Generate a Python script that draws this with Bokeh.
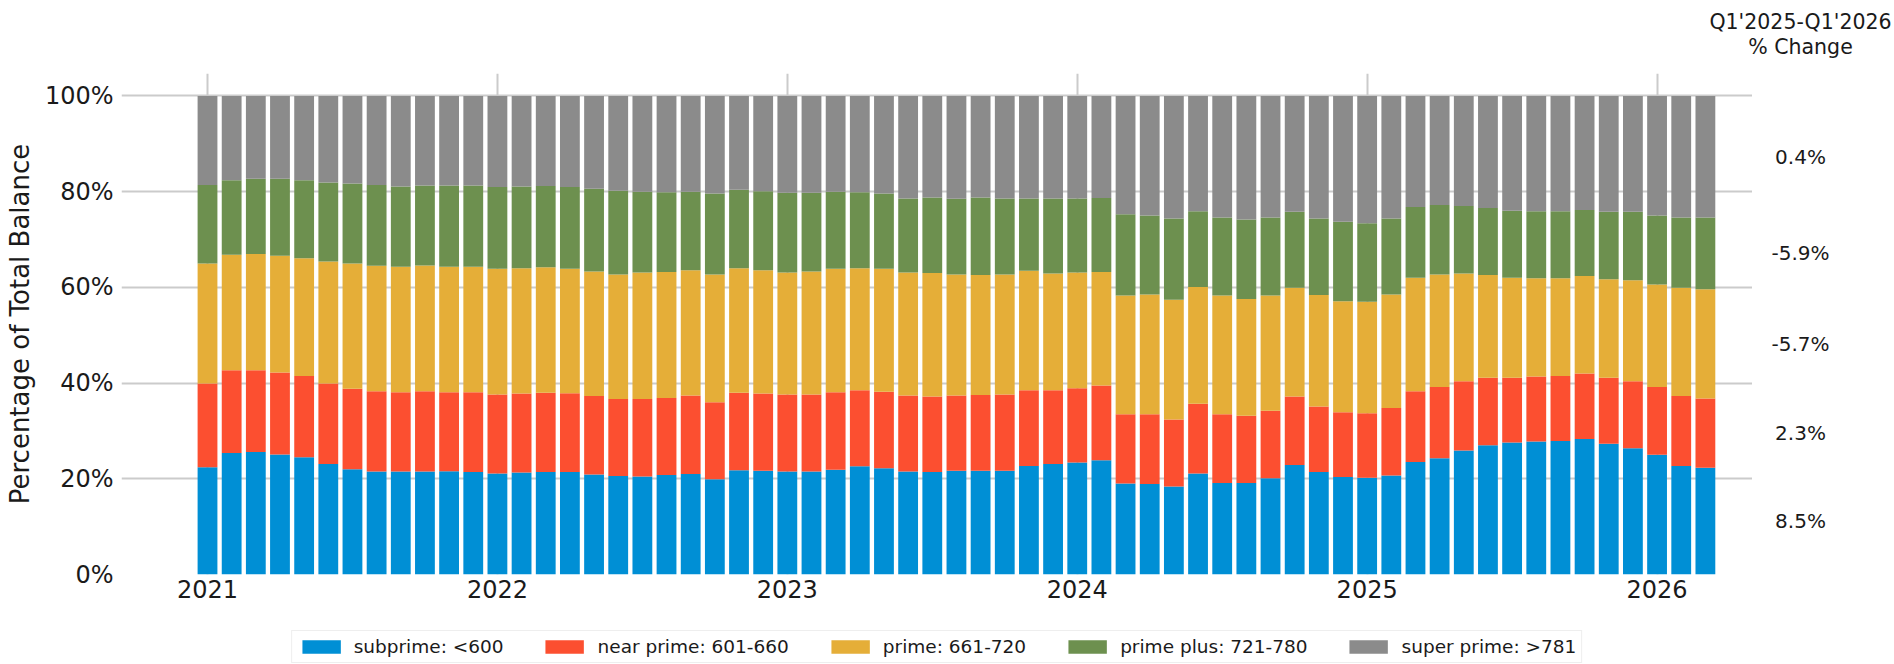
import pandas as pd
from bokeh.plotting import figure
from bokeh.layouts import column, row
from bokeh.models import (ColumnDataSource, FixedTicker, PrintfTickFormatter, Legend,
                          LegendItem, Range1d)
from bokeh.core.properties import value
from bokeh.embed import file_html
from bokeh.resources import INLINE

# ---------------- data ----------------
months = pd.date_range("2021-01-01", periods=63, freq="MS").strftime("%Y-%m").tolist()

subprime = [22.4, 25.4, 25.6, 25.1, 24.5, 23.1, 22.0, 21.5, 21.5, 21.5, 21.6, 21.4,
            21.1, 21.3, 21.4, 21.4, 20.9, 20.6, 20.5, 20.8, 21.0, 19.9, 21.8, 21.7,
            21.5, 21.5, 21.9, 22.6, 22.2, 21.5, 21.4, 21.7, 21.7, 21.7, 22.7, 23.1,
            23.4, 23.9, 19.0, 18.9, 18.4, 21.1, 19.1, 19.1, 20.1, 22.9, 21.4, 20.4,
            20.2, 20.7, 23.5, 24.3, 25.9, 27.0, 27.6, 27.8, 27.9, 28.3, 27.3, 26.4,
            25.0, 22.7, 22.3]
near_prime = [17.5, 17.3, 17.1, 17.1, 17.0, 16.8, 16.8, 16.8, 16.6, 16.8, 16.5, 16.7,
              16.5, 16.5, 16.6, 16.5, 16.4, 16.1, 16.2, 16.1, 16.4, 16.1, 16.2, 16.1,
              16.1, 16.1, 16.2, 15.9, 16.0, 15.9, 15.8, 15.7, 15.8, 15.9, 15.8, 15.4,
              15.5, 15.6, 14.5, 14.6, 14.0, 14.6, 14.4, 14.1, 14.1, 14.3, 13.7, 13.5,
              13.5, 14.1, 14.8, 14.9, 14.5, 14.1, 13.5, 13.6, 13.6, 13.7, 13.8, 14.0,
              14.2, 14.6, 14.5]
prime = [25.1, 24.1, 24.3, 24.4, 24.6, 25.5, 26.2, 26.2, 26.2, 26.3, 26.2, 26.2,
         26.3, 26.2, 26.2, 26.0, 26.0, 26.0, 26.4, 26.3, 26.2, 26.7, 26.0, 25.8,
         25.5, 25.7, 25.8, 25.5, 25.7, 25.7, 25.8, 25.3, 25.1, 25.1, 25.0, 24.4,
         24.2, 23.7, 24.8, 25.0, 25.0, 24.4, 24.8, 24.4, 24.1, 22.7, 23.3, 23.2,
         23.3, 23.7, 23.7, 23.5, 22.5, 21.5, 20.9, 20.5, 20.4, 20.4, 20.6, 21.1,
         21.4, 22.6, 22.8]
prime_plus = [16.4, 15.6, 15.7, 16.1, 16.3, 16.5, 16.7, 16.9, 16.8, 16.7, 17.0, 17.0,
              17.1, 17.1, 17.0, 17.1, 17.3, 17.5, 16.9, 16.7, 16.4, 16.9, 16.4, 16.5,
              16.7, 16.5, 16.1, 15.9, 15.7, 15.5, 15.8, 15.8, 16.2, 15.9, 15.1, 15.7,
              15.5, 15.5, 17.0, 16.5, 17.0, 15.8, 16.3, 16.6, 16.3, 15.9, 16.0, 16.6,
              16.4, 15.9, 14.8, 14.5, 14.1, 14.0, 14.0, 14.0, 14.0, 13.8, 14.1, 14.3,
              14.4, 14.7, 15.0]
super_prime = [18.6, 17.6, 17.3, 17.3, 17.6, 18.1, 18.3, 18.6, 18.9, 18.7, 18.7, 18.7,
               19.0, 18.9, 18.8, 19.0, 19.4, 19.8, 20.0, 20.1, 20.0, 20.4, 19.6, 19.9,
               20.2, 20.2, 20.0, 20.1, 20.4, 21.4, 21.2, 21.5, 21.2, 21.4, 21.4, 21.4,
               21.4, 21.3, 24.7, 25.0, 25.6, 24.1, 25.4, 25.8, 25.4, 24.2, 25.6, 26.3,
               26.6, 25.6, 23.2, 22.8, 23.0, 23.4, 24.0, 24.1, 24.1, 23.8, 24.2, 24.2,
               25.0, 25.4, 25.4]

series_names = ["subprime", "near_prime", "prime", "prime_plus", "super_prime"]
series_labels = ["subprime: <600", "near prime: 601-660", "prime: 661-720",
                 "prime plus: 721-780", "super prime: >781"]
change_labels = ["8.5%", "2.3%", "-5.7%", "-5.9%", "0.4%"]
change_title = ["Q1'2025-Q1'2026", "% Change"]
year_ticks = [0, 12, 24, 36, 48, 60]
year_labels = ["2021", "2022", "2023", "2024", "2025", "2026"]
y_ticks = [0, 20, 40, 60, 80, 100]

# ---------------- style / layout ----------------
colors = ["#008fd5", "#fc4f30", "#e5ae38", "#6d904f", "#8b8b8b"]
FONT = "DejaVu Sans"
GRID = "#cbcbcb"
TXT = "#1a1a1a"

W, H = 1894, 664
TOP_H = 60            # strip holding the right-hand column title
MAIN_W = 1752
MAIN_H = 566
LEG_H = H - TOP_H - MAIN_H
BORDER_L = 121
BORDER_T = 13
BORDER_B = 52
Y_MAX = 104.7
X_START, X_END = -3.56, 63.95
RIGHT_W = W - MAIN_W
TEXT_X = 48           # centre of right-column texts, px from the left of that column


def no_align(f):
    try:
        f.frame_align = False
    except Exception:
        pass


# ---------- main chart ----------
src = ColumnDataSource(dict(x=list(range(len(months))), month=months,
                            subprime=subprime, near_prime=near_prime, prime=prime,
                            prime_plus=prime_plus, super_prime=super_prime))

p = figure(width=MAIN_W, height=MAIN_H, output_backend="svg", toolbar_location=None,
           x_range=Range1d(X_START, X_END), y_range=Range1d(0, Y_MAX),
           min_border_left=BORDER_L, min_border_right=0, min_border_top=BORDER_T,
           min_border_bottom=BORDER_B)
p.outline_line_color = None
no_align(p)

rs = p.vbar_stack(series_names, x="x", width=0.82, color=colors, line_color=None, source=src)

for ax in (p.xaxis[0], p.yaxis[0]):
    ax.axis_line_color = None
    ax.major_tick_line_color = None
    ax.minor_tick_line_color = None
    ax.major_tick_out = 0
    ax.major_tick_in = 0
    ax.minor_tick_out = 0
    ax.minor_tick_in = 0
    ax.major_label_text_font = FONT
    ax.major_label_text_font_size = "24px"
    ax.major_label_text_color = TXT

p.xaxis.ticker = FixedTicker(ticks=year_ticks)
p.xaxis.major_label_overrides = {t: l for t, l in zip(year_ticks, year_labels)}
p.xaxis.major_label_standoff = 5

p.yaxis.ticker = FixedTicker(ticks=y_ticks)
p.yaxis.formatter = PrintfTickFormatter(format="%d%%")
p.yaxis.major_label_standoff = 8
p.yaxis.axis_label = "Percentage of Total Balance"
p.yaxis.axis_label_text_font = FONT
p.yaxis.axis_label_text_font_size = "26px"
p.yaxis.axis_label_text_font_style = "normal"
p.yaxis.axis_label_text_color = TXT
p.yaxis.axis_label_standoff = 7

p.xgrid.ticker = FixedTicker(ticks=year_ticks)
p.ygrid.ticker = FixedTicker(ticks=y_ticks)
for g in (p.xgrid[0], p.ygrid[0]):
    g.grid_line_color = GRID
    g.grid_line_width = 2

# ---------- right column: % change of each band, at the centre of the last bar's segments ----------
right = figure(width=RIGHT_W, height=MAIN_H, output_backend="svg", toolbar_location=None,
               x_axis_type=None, y_axis_type=None, x_range=Range1d(0, RIGHT_W),
               y_range=p.y_range, min_border_left=0, min_border_right=0,
               min_border_top=BORDER_T, min_border_bottom=BORDER_B)
right.outline_line_color = None
right.grid.visible = False
no_align(right)
last = [s[-1] for s in (subprime, near_prime, prime, prime_plus, super_prime)]
mids, cum = [], 0.0
for v in last:
    mids.append(cum + v / 2)
    cum += v
right.text(x=[TEXT_X] * len(mids), y=mids, text=change_labels,
           text_font=value(FONT), text_font_size="20px", text_color=TXT,
           text_align="center", text_baseline="middle")

# ---------- top strip: column title ----------
top = figure(width=W, height=TOP_H, output_backend="svg", toolbar_location=None,
             x_axis_type=None, y_axis_type=None, x_range=Range1d(0, W),
             y_range=Range1d(0, TOP_H), min_border=0)
top.outline_line_color = None
top.grid.visible = False
no_align(top)
top.text(x=[MAIN_W + TEXT_X] * 2, y=[TOP_H - 21.7, TOP_H - 46.0], text=change_title,
         text_font=value(FONT), text_font_size="20.5px", text_color=TXT,
         text_align="center", text_baseline="middle")

# ---------- bottom strip: legend ----------
leg = figure(width=W, height=LEG_H, output_backend="svg", toolbar_location=None,
             x_axis_type=None, y_axis_type=None, x_range=Range1d(0, 1), y_range=Range1d(0, 1),
             min_border_left=BORDER_L, min_border_right=RIGHT_W, min_border_top=0,
             min_border_bottom=0)
leg.outline_line_color = None
leg.grid.visible = False
no_align(leg)
# swatch-only renderers, placed outside the visible range, used by the legend
dummies = [leg.vbar(x=[-10], top=[0], bottom=[0], width=0.5, fill_color=c, line_color=None)
           for c in colors]
legend = Legend(items=[LegendItem(label=l, renderers=[r]) for l, r in zip(series_labels, dummies)],
                orientation="horizontal", location="top_center",
                glyph_width=48, glyph_height=17, label_standoff=9, spacing=37,
                padding=5, margin=4, label_text_font=FONT, label_text_font_size="18.5px",
                label_text_color=TXT, border_line_color="#dddddd",
                border_line_width=1, background_fill_alpha=1.0)
leg.add_layout(legend, "center")

layout = column(top, row(p, right), leg)
open("out.html", "w").write(file_html(layout, INLINE))
